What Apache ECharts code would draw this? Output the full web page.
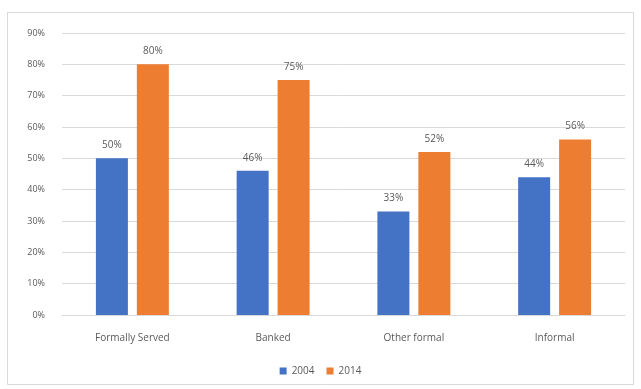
<!DOCTYPE html>
<html>
<head>
<meta charset="utf-8">
<script src="https://cdn.jsdelivr.net/npm/echarts@6/dist/echarts.min.js"></script>
<style>
  html, body { margin: 0; padding: 0; background: #fff; }
  #chart { width: 641px; height: 389px; }
</style>
</head>
<body>
<div id="chart"></div>
<script>
// Share of adults served, by channel
const categories = ['Formally Served', 'Banked', 'Other formal', 'Informal'];
const series2004 = [50, 46, 33, 44];
const series2014 = [80, 75, 52, 56];
const yTicks = [0, 10, 20, 30, 40, 50, 60, 70, 80, 90];

const textColor = '#595959';
const fontFamily = 'Open Sans, Liberation Sans, sans-serif';

const chart = echarts.init(document.getElementById('chart'), null, { renderer: 'canvas' });

const labelStyle = {
  show: true,
  position: 'top',
  distance: 8,
  color: textColor,
  fontFamily,
  fontSize: 10,
  formatter: p => p.value + '%'
};

chart.setOption({
  animation: false,
  backgroundColor: '#fff',
  graphic: [{
    type: 'rect',
    shape: { x: 7.5, y: 12.5, width: 626, height: 372 },
    style: { fill: 'none', stroke: '#d9d9d9', lineWidth: 1 },
    silent: true
  }],
  grid: { left: 62, right: 16, top: 33, bottom: 74, containLabel: false },
  legend: {
    bottom: 8,
    left: 'center',
    itemWidth: 7,
    itemHeight: 7,
    itemGap: 12,
    icon: 'rect',
    textStyle: { color: textColor, fontFamily, fontSize: 10 },
    data: ['2004', '2014']
  },
  xAxis: {
    type: 'category',
    data: categories,
    axisLine: { lineStyle: { color: '#d9d9d9' } },
    axisTick: { show: false },
    axisLabel: { color: textColor, fontFamily, fontSize: 10, margin: 18 }
  },
  yAxis: {
    type: 'value',
    min: yTicks[0],
    max: yTicks[yTicks.length - 1],
    interval: 10,
    axisLine: { show: false },
    axisTick: { show: false },
    splitLine: { lineStyle: { color: '#d9d9d9' } },
    axisLabel: { color: textColor, fontFamily, fontSize: 9, margin: 17, formatter: v => v + '%' }
  },
  series: [
    {
      name: '2004',
      type: 'bar',
      data: series2004,
      barWidth: 32,
      barGap: '28%',
      itemStyle: { color: '#4472c4' },
      label: labelStyle
    },
    {
      name: '2014',
      type: 'bar',
      data: series2014,
      barWidth: 32,
      itemStyle: { color: '#ed7d31' },
      label: labelStyle
    }
  ]
});
</script>
</body>
</html>
